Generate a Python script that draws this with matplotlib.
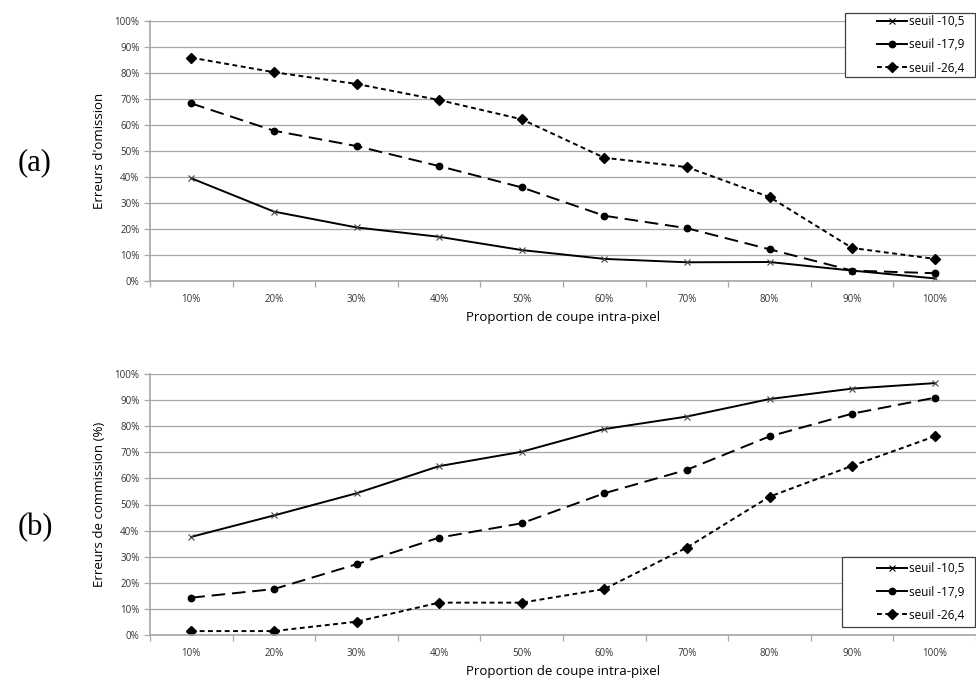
import matplotlib.pyplot as plt
from matplotlib.lines import Line2D
from matplotlib.patches import Rectangle
from matplotlib.ticker import FixedLocator, PercentFormatter

plt.rcParams['font.family'] = ['Open Sans', 'DejaVu Sans']

categories = ['10%', '20%', '30%', '40%', '50%', '60%', '70%', '80%', '90%', '100%']
series_names = ['seuil -10,5', 'seuil -17,9', 'seuil -26,4']

# (a) erreurs d'omission
omission_105 = [39.5, 26.7, 20.6, 17.0, 11.9, 8.5, 7.2, 7.3, 4.0, 1.0]
omission_179 = [68.3, 57.8, 51.9, 44.2, 36.0, 25.1, 20.3, 12.2, 4.0, 3.0]
omission_264 = [85.9, 80.3, 75.8, 69.6, 62.2, 47.4, 43.8, 32.3, 12.7, 8.5]

# (b) erreurs de commission
commission_105 = [37.6, 45.8, 54.3, 64.7, 70.2, 78.9, 83.7, 90.4, 94.4, 96.5]
commission_179 = [14.3, 17.6, 27.1, 37.3, 42.8, 54.3, 63.3, 76.1, 84.8, 90.9]
commission_264 = [1.5, 1.5, 5.1, 12.4, 12.4, 17.6, 33.5, 53.0, 64.8, 76.1]

styles = [
    dict(linestyle='-', marker='x', markersize=5, markeredgewidth=0.8, markeredgecolor='#444444'),
    dict(linestyle=(0, (7, 3.5)), marker='o', markersize=4.6),
    dict(linestyle=(0, (2.5, 1.8)), marker='D', markersize=4.6),
]

fig = plt.figure(figsize=(9.76, 6.82), dpi=100)
ax1 = fig.add_axes([150/976, 1-281/682, 826/976, 260/682])
ax2 = fig.add_axes([150/976, 1-635/682, 826/976, 261/682])

x = list(range(len(categories)))
grid_c = '#a6a6a6'


def setup(ax, ylabel):
    ax.set_xlim(-0.5, len(categories) - 0.5)
    ax.set_ylim(0, 100)
    ax.set_yticks(range(0, 101, 10))
    ax.yaxis.set_major_formatter(PercentFormatter(decimals=0))
    ax.grid(axis='y', color=grid_c, linewidth=0.9)
    ax.set_axisbelow(True)
    ax.set_xticks(x)
    ax.set_xticklabels(categories)
    ax.xaxis.set_minor_locator(FixedLocator([i - 0.5 for i in range(len(categories) + 1)]))
    ax.tick_params(axis='x', which='major', length=0, labelsize=7, pad=9, colors='#333333')
    ax.tick_params(axis='x', which='minor', length=4, color=grid_c, width=0.9)
    ax.tick_params(axis='y', length=4, color=grid_c, width=0.9, labelsize=7, labelcolor='#333333')
    for s in ['top', 'right']:
        ax.spines[s].set_visible(False)
    for s in ['left', 'bottom']:
        ax.spines[s].set_color(grid_c)
        ax.spines[s].set_linewidth(1.2)
    ax.set_ylabel(ylabel, fontsize=9.5, labelpad=6)
    ax.set_xlabel('Proportion de coupe intra-pixel', fontsize=9.5, labelpad=5)


for ax, data in [(ax1, [omission_105, omission_179, omission_264]),
                 (ax2, [commission_105, commission_179, commission_264])]:
    for vals, st in zip(data, styles):
        ax.plot(x, vals, color='black', linewidth=1.4, **st)

setup(ax1, "Erreurs d'omission")
setup(ax2, 'Erreurs de commission (%)')

# legend entries as Excel draws them
handles = [
    Line2D([], [], color='black', linewidth=1.4, linestyle='-', marker='x', markersize=5, markeredgewidth=0.8),
    Line2D([], [], color='black', linewidth=1.4, linestyle='-', marker='o', markersize=4.6),
    Line2D([], [], color='black', linewidth=1.4, linestyle=(0, (2.5, 1.8)), marker='D', markersize=4.6),
]
# legend frames: (left, top, right, bottom) in pixels
frames = [(845, 13, 975, 77), (842, 557, 975, 627)]
for l, t, r, b in frames:
    fig.patches.append(Rectangle((l/976, 1-b/682), (r-l)/976, (b-t)/682, transform=fig.transFigure,
                                 facecolor='white', edgecolor='#404040', linewidth=0.9, zorder=5))
    leg = fig.legend(handles, series_names, loc='center right',
                     bbox_to_anchor=((r - 8)/976, 1-(t+b)/2/682),
                     bbox_transform=fig.transFigure, fontsize=8.5, frameon=False,
                     handlelength=2.6, labelspacing=0.85, borderpad=0.2,
                     handletextpad=0.15, borderaxespad=0)
    leg.set_zorder(6)

fig.text(35/976, 1-163/682, '(a)', family=['Liberation Serif', 'DejaVu Serif'], fontsize=22,
         ha='center', va='center')
fig.text(35/976, 1-528/682, '(b)', family=['Liberation Serif', 'DejaVu Serif'], fontsize=22,
         ha='center', va='center')

plt.savefig('out.png', dpi=100)
